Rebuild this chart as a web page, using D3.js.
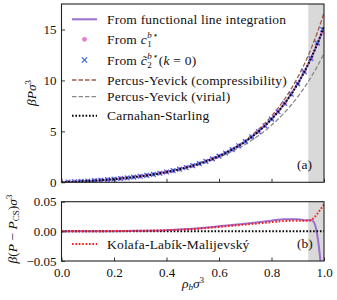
<!DOCTYPE html>
<html><head><meta charset="utf-8">
<script src="https://cdn.jsdelivr.net/npm/d3@7"></script>
<style>
body{margin:0;background:#fff}
svg{display:block}
</style>
</head><body>
<svg id="c" width="337" height="300" font-family="Liberation Serif"></svg>
<script>
// ---------- data ----------
const rhoMarkers = [0.025,0.05,0.075,0.1,0.125,0.15,0.175,0.2,0.225,0.25,0.275,0.3,0.325,0.35,0.375,0.4,0.425,0.45,0.475,0.5,0.525,0.55,0.575,0.6,0.625,0.65,0.675,0.7,0.725,0.75,0.775,0.8,0.825,0.85,0.875,0.9,0.925,0.95,0.975,0.995];
const pC1 = [0.026,0.056,0.088,0.124,0.164,0.208,0.257,0.311,0.370,0.436,0.509,0.590,0.679,0.778,0.887,1.007,1.140,1.288,1.451,1.631,1.831,2.052,2.298,2.570,2.872,3.208,3.582,3.997,4.460,4.977,5.554,6.200,6.923,7.734,8.645,9.671,10.83,12.14,13.62,14.75];
const pC2 = [0.026,0.056,0.088,0.124,0.164,0.208,0.257,0.311,0.370,0.436,0.509,0.590,0.679,0.778,0.887,1.007,1.140,1.288,1.451,1.631,1.831,2.052,2.298,2.570,2.872,3.208,3.582,3.997,4.460,4.977,5.554,6.200,6.923,7.734,8.645,9.671,10.84,12.16,13.66,15.00];

const rhoCurve = [0,0.05,0.1,0.2,0.3,0.4,0.5,0.55,0.6,0.65,0.7,0.75,0.8,0.85,0.875,0.9,0.925,0.95,0.975,1.0];
const pCS  = [0,0.0556,0.1240,0.3106,0.5900,1.0072,1.6312,2.0524,2.5701,3.2081,3.9972,4.9771,6.1996,7.7340,8.6454,9.6713,10.828,12.137,13.618,15.299];
const pFLI = [0,0.0556,0.1240,0.3106,0.5901,1.0092,1.6362,2.0594,2.5791,3.2201,4.0102,4.9926,6.2176,7.7545,8.6659,9.6908,10.846,12.155,13.608,15.200];
const pPYc = [0,0.0556,0.1240,0.3110,0.5920,1.0146,1.6535,2.0888,2.6278,3.2974,4.1328,5.1798,6.4992,8.1724,9.1744,10.308,11.595,13.057,14.724,16.627];
const pPYv = [0,0.0556,0.1239,0.3100,0.5861,0.9923,1.5866,1.9796,2.4547,3.0296,3.7260,4.5715,5.6006,6.8571,7.5877,8.3974,9.296,10.294,11.406,12.644];

const rhoDiffFLI = [0,0.1,0.2,0.3,0.4,0.5,0.6,0.7,0.75,0.8,0.85,0.9,0.93,0.95,0.96,0.965,0.97,0.975,0.98,0.985,0.99];
const dFLI = [0,0,0.0003,0.001,0.002,0.0045,0.0085,0.013,0.0155,0.018,0.0205,0.0205,0.0187,0.019,0.0165,0.012,0.004,-0.008,-0.024,-0.044,-0.068];
const rhoDiffKLM = [0,0.1,0.2,0.3,0.4,0.5,0.6,0.7,0.8,0.85,0.9,0.94,0.95,0.96,0.97,0.98,0.99,1.0];
const dKLM = [0,0.0001,0.0005,0.001,0.002,0.004,0.0075,0.0115,0.0155,0.0175,0.018,0.0178,0.019,0.022,0.027,0.033,0.039,0.045];
const rhoDiffCS = [0,1];
const dCS = [0,0];

const shadeRange = [0.94,1.0];
const xTicks = [0,0.2,0.4,0.6,0.8,1.0];
const xTickLabels = ["0.0","0.2","0.4","0.6","0.8","1.0"];
const yTicksTop = [0,5,10,15];
const yTicksBot = [-0.05,0,0.05];
const yTickLabelsBot = ["\u22120.05","0.00","0.05"];

// ---------- layout ----------
const FONT = "Liberation Serif";
const svg = d3.select("#c");
const L = 61.5, R = 324;
const topP = {t:4, b:182.3}, botP = {t:201.7, b:261};
const x = d3.scaleLinear().domain([0,1]).range([L,R]);
const yT = d3.scaleLinear().domain([0,17.5]).range([topP.b, topP.t]);
const yB = d3.scaleLinear().domain([-0.05,0.05]).range([botP.b, botP.t]);

const col = {fli:"#9a6fd0", c1:"#e97ac8", c2:"#3f66e6", pyc:"#a2594c", pyv:"#8a8a8a", cs:"#000", klm:"#ff1a1a", shade:"#d9d9d9"};

const defs = svg.append("defs");
defs.append("clipPath").attr("id","clipT").append("rect").attr("x",L).attr("y",topP.t).attr("width",R-L).attr("height",topP.b-topP.t);
defs.append("clipPath").attr("id","clipB").append("rect").attr("x",L).attr("y",botP.t).attr("width",R-L).attr("height",botP.b-botP.t);

function panel(p, clip){
  const g = svg.append("g");
  g.append("rect").attr("x",x(shadeRange[0])).attr("y",p.t).attr("width",x(shadeRange[1])-x(shadeRange[0])).attr("height",p.b-p.t).attr("fill",col.shade);
  const data = g.append("g").attr("clip-path",`url(#${clip})`);
  return {g, data};
}
const T = panel(topP, "clipT");
const B = panel(botP, "clipB");

const lineT = (xs, ys) => d3.line().curve(d3.curveMonotoneX).x((d,i)=>x(xs[i])).y((d,i)=>yT(ys[i]))(xs);
const lineB = (xs, ys) => d3.line().curve(d3.curveMonotoneX).x((d,i)=>x(xs[i])).y((d,i)=>yB(ys[i]))(xs);

// top curves
T.data.append("path").attr("d",lineT(rhoCurve,pPYc)).attr("fill","none").attr("stroke",col.pyc).attr("stroke-width",1.3).attr("stroke-dasharray","4.5,2");
T.data.append("path").attr("d",lineT(rhoCurve,pPYv)).attr("fill","none").attr("stroke",col.pyv).attr("stroke-width",1.3).attr("stroke-dasharray","4.5,2");
T.data.append("path").attr("d",lineT(rhoCurve,pFLI)).attr("fill","none").attr("stroke",col.fli).attr("stroke-width",2);
T.data.selectAll("circle.c1").data(rhoMarkers).join("circle").attr("cx",d=>x(d)).attr("cy",(d,i)=>yT(pC1[i])).attr("r",2.2).attr("fill",col.c1);
const cross = (cx,cy,s)=>`M${cx-s},${cy-s}L${cx+s},${cy+s}M${cx-s},${cy+s}L${cx+s},${cy-s}`;
T.data.selectAll("path.c2").data(rhoMarkers).join("path").attr("d",(d,i)=>cross(x(d),yT(pC2[i]),2.4)).attr("stroke",col.c2).attr("stroke-width",1.2).attr("fill","none");
T.data.append("path").attr("d",lineT(rhoCurve,pCS)).attr("fill","none").attr("stroke",col.cs).attr("stroke-width",2).attr("stroke-dasharray","1.6,1.8");

// bottom curves
B.data.append("path").attr("d",lineB(rhoDiffFLI,dFLI)).attr("fill","none").attr("stroke",col.fli).attr("stroke-width",2);
B.data.append("path").attr("d",lineB(rhoDiffCS,dCS)).attr("fill","none").attr("stroke",col.cs).attr("stroke-width",2).attr("stroke-dasharray","1.6,1.8");
B.data.append("path").attr("d",lineB(rhoDiffKLM,dKLM)).attr("fill","none").attr("stroke",col.klm).attr("stroke-width",2).attr("stroke-dasharray","1.6,1.8");

// axes
function axes(y, p, yticks, ylabels, showX){
  const g = svg.append("g");
  const ax = d3.axisBottom(x).tickValues(xTicks).tickSize(-3.5).tickFormat((d,i)=>showX?xTickLabels[i]:"");
  const gx = g.append("g").attr("transform",`translate(0,${p.b})`).call(ax);
  const ay = d3.axisLeft(y).tickValues(yticks).tickSize(-3.5).tickFormat((d,i)=>ylabels[i]);
  const gy = g.append("g").attr("transform",`translate(${L},0)`).call(ay);
  [gx,gy].forEach(a=>{a.attr("font-family",FONT).attr("font-size",13);
    a.select(".domain").remove(); a.selectAll(".tick line").attr("stroke","#222").attr("stroke-width",0.9);
    a.selectAll("text").attr("fill","#111");});
  gx.selectAll("text").attr("dy",null).attr("y",15.5);
  gy.selectAll("text").attr("x",-5).attr("dy","0.33em");
  g.append("rect").attr("x",L).attr("y",p.t).attr("width",R-L).attr("height",p.b-p.t).attr("fill","none").attr("stroke","#222").attr("stroke-width",1.1);
}
axes(yT, topP, yTicksTop, yTicksTop.map(String), false);
axes(yB, botP, yTicksBot, yTickLabelsBot, true);

// labels
const fs = 13.5;
function t(xx,yy,anchor){ return svg.append("text").attr("x",xx).attr("y",yy).attr("font-family",FONT).attr("font-size",fs).attr("fill","#111").attr("text-anchor",anchor||"start"); }
t(297,169).text("(a)");
t(297,248).text("(b)");

// x label
const xl = t(193,288,"middle");
xl.append("tspan").attr("font-style","italic").text("ρ");
xl.append("tspan").attr("font-style","italic").attr("font-size",9).attr("dy",2).text("b");
xl.append("tspan").attr("font-style","italic").attr("dy",-2).text("σ");
xl.append("tspan").attr("font-size",9).attr("dy",-5).text("3");

// y labels
const yl1 = svg.append("text").attr("transform","translate(36,93) rotate(-90)").attr("text-anchor","middle").attr("font-family",FONT).attr("font-size",fs).attr("fill","#111");
yl1.append("tspan").attr("font-style","italic").text("βPσ");
yl1.append("tspan").attr("font-size",9).attr("dy",-5).text("3");

const yl2 = svg.append("text").attr("transform","translate(17,229) rotate(-90)").attr("text-anchor","middle").attr("font-family",FONT).attr("font-size",fs).attr("fill","#111");
yl2.append("tspan").attr("font-style","italic").text("β");
yl2.append("tspan").text("(");
yl2.append("tspan").attr("font-style","italic").text("P");
yl2.append("tspan").text(" − ");
yl2.append("tspan").attr("font-style","italic").text("P");
yl2.append("tspan").attr("font-size",9).attr("dy",2).text("CS");
yl2.append("tspan").attr("dy",-2).text(")");
yl2.append("tspan").attr("font-style","italic").text("σ");
yl2.append("tspan").attr("font-size",9).attr("dy",-5).text("3");

// legend
const lx0 = 72, lx1 = 97, tx = 107;
const leg = svg.append("g").attr("font-family",FONT).attr("fill","#111");
function legLine(yy, c, dash, w){
  leg.append("line").attr("x1",lx0).attr("x2",lx1).attr("y1",yy).attr("y2",yy).attr("stroke",c).attr("stroke-width",w).attr("stroke-dasharray",dash||null);
}
function legText(yy){ return leg.append("text").attr("x",tx).attr("y",yy+4.5).attr("font-size",fs).attr("letter-spacing",0.2); }
legLine(19.3, col.fli, null, 2);
legText(19.3).text("From functional line integration");
leg.append("circle").attr("cx",84.5).attr("cy",39.3).attr("r",2.4).attr("fill",col.c1);
{
  const tt = legText(39.3); tt.append("tspan").text("From "); tt.append("tspan").attr("font-style","italic").text("c");
  const w = tt.node().getComputedTextLength();
  leg.append("text").attr("x",tx+w+0.5).attr("y",39.3+8).attr("font-size",9).text("1");
  leg.append("text").attr("x",tx+w+0.5).attr("y",39.3-1).attr("font-size",9).attr("font-style","italic").text("b⋆");
}
leg.append("path").attr("d",cross(84.5,60,2.6)).attr("stroke",col.c2).attr("stroke-width",1.3);
{
  const tt = legText(60); tt.append("tspan").text("From "); tt.append("tspan").attr("font-style","italic").text("c̃");
  const w = tt.node().getComputedTextLength();
  leg.append("text").attr("x",tx+w+0.5).attr("y",60+8).attr("font-size",9).text("2");
  const sup = leg.append("text").attr("x",tx+w+0.5).attr("y",60-1).attr("font-size",9).attr("font-style","italic").text("b⋆");
  const ws = sup.node().getComputedTextLength();
  const r = leg.append("text").attr("x",tx+w+ws+1.5).attr("y",64.5).attr("font-size",fs).attr("letter-spacing",0.2);
  r.append("tspan").text("(");
  r.append("tspan").attr("font-style","italic").text("k");
  r.append("tspan").text(" = 0)");
}
legLine(80, col.pyc, "4.5,2", 1.3);
legText(80).text("Percus-Yevick (compressibility)");
legLine(96.7, col.pyv, "4.5,2", 1.3);
legText(96.7).text("Percus-Yevick (virial)");
legLine(115.7, col.cs, "1.6,1.8", 2);
legText(115.7).text("Carnahan-Starling");
legLine(244, col.klm, "1.6,1.8", 2);
legText(244).text("Kolafa-Labík-Malijevský");
</script>
</body></html>
